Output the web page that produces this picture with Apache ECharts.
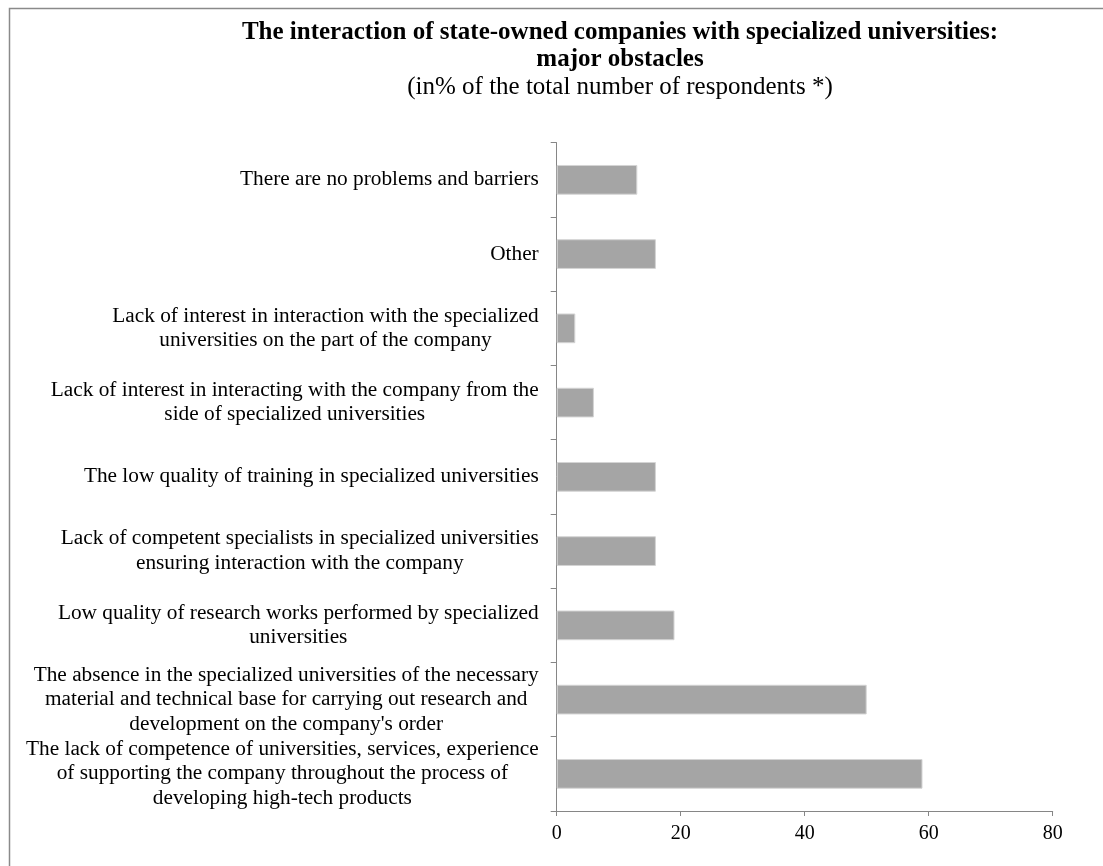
<!DOCTYPE html>
<html>
<head>
<meta charset="utf-8">
<script src="https://cdn.jsdelivr.net/npm/echarts@6/dist/echarts.min.js"></script>
<style>
html,body{margin:0;padding:0;background:#fff;}
#chart{width:1103px;height:866px;}
</style>
</head>
<body>
<div id="chart"></div>
<script>
var titleLines = ["The interaction of state-owned companies with specialized universities:", "major obstacles"];
var subtitle = "(in% of the total number of respondents *)";
var categories = [
  "The lack of competence of universities, services, experience\nof supporting the company throughout the process of\ndeveloping high-tech products",
  "The absence in the specialized universities of the necessary\nmaterial and technical base for carrying out research and\ndevelopment on the company's order",
  "Low quality of research works performed by specialized\nuniversities",
  "Lack of competent specialists in specialized universities\nensuring interaction with the company",
  "The low quality of training in specialized universities",
  "Lack of interest in interacting with the company from the\nside of specialized universities",
  "Lack of interest in interaction with the specialized\nuniversities on the part of the company",
  "Other",
  "There are no problems and barriers"
];
var values = [59, 50, 19, 16, 16, 6, 3, 16, 13];
var xTicks = {min: 0, max: 80, interval: 20};

var FONT = "'Liberation Serif', 'Times New Roman', serif";
var chart = echarts.init(document.getElementById('chart'));
chart.setOption({
  backgroundColor: '#ffffff',
  animation: false,
  graphic: [{
    type: 'rect',
    shape: {x: 9.5, y: 8.5, width: 1300, height: 1000},
    style: {fill: 'none', stroke: '#8a8a8a', lineWidth: 1.5},
    silent: true,
    z: -1
  }],
  title: {
    left: 615,
    top: 14,
    textAlign: 'center',
    text: titleLines.join('\n'),
    textStyle: {fontFamily: FONT, fontWeight: 'bold', fontSize: 25, color: '#000', lineHeight: 27},
    subtext: subtitle,
    subtextStyle: {fontFamily: FONT, fontSize: 25, color: '#000', lineHeight: 27},
    itemGap: 1
  },
  grid: {left: 556.7, right: 50.3, top: 142.7, bottom: 55, containLabel: false},
  xAxis: {
    type: 'value',
    min: xTicks.min, max: xTicks.max, interval: xTicks.interval,
    axisLine: {show: true, lineStyle: {color: '#868686', width: 1}},
    axisTick: {show: true, length: 5, lineStyle: {color: '#868686'}},
    splitLine: {show: false},
    axisLabel: {fontFamily: FONT, fontSize: 20, color: '#000', margin: 13}
  },
  yAxis: {
    type: 'category',
    data: categories,
    axisLine: {show: true, lineStyle: {color: '#868686', width: 1}},
    axisTick: {show: true, length: 6, lineStyle: {color: '#868686'}},
    axisLabel: {
      interval: 0,
      margin: 18,
      fontFamily: FONT, fontSize: 21.3, color: '#000', lineHeight: 24.5,
      formatter: function (v) {
        return v.split('\n').map(function (l) { return '{c|' + l + '}'; }).join('\n');
      },
      rich: {c: {align: 'center', fontFamily: FONT, fontSize: 21.3, color: '#000', lineHeight: 24.5}}
    }
  },
  series: [{
    type: 'bar',
    data: values,
    barCategoryGap: '60%',
    itemStyle: {color: '#a5a5a5', borderColor: '#d4d4d4', borderWidth: 1}
  }]
});
</script>
</body>
</html>
